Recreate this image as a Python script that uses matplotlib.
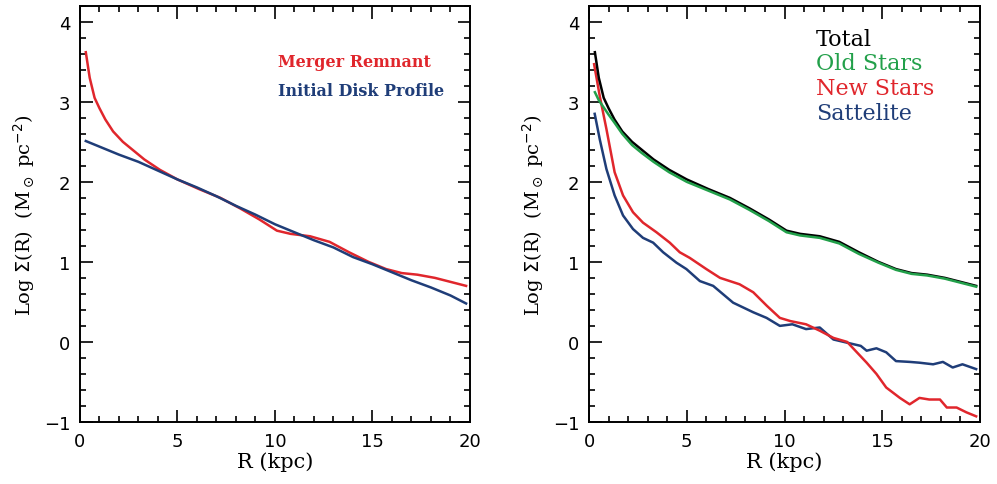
import matplotlib
matplotlib.use("Agg")
import matplotlib.pyplot as plt
from matplotlib.ticker import MultipleLocator

# merger remnant / total profile
r_tot = [0.3, 0.5, 0.75, 1.0, 1.3, 1.7, 2.2, 2.7, 3.3, 4.1, 5.0, 6.1, 7.2, 8.2, 9.2, 10.1, 10.8, 11.8, 12.8, 13.8, 14.8, 15.7, 16.5, 17.3, 18.2, 19.0, 19.8]
sig_tot = [3.62, 3.30, 3.05, 2.92, 2.78, 2.63, 2.50, 2.40, 2.28, 2.15, 2.03, 1.91, 1.80, 1.67, 1.53, 1.39, 1.35, 1.32, 1.25, 1.12, 1.00, 0.91, 0.86, 0.84, 0.80, 0.75, 0.70]

# initial disk profile
r_disk = [0.3, 1.0, 2.0, 3.0, 4.0, 5.0, 6.0, 7.0, 8.0, 9.0, 10.0, 11.0, 12.0, 13.0, 14.0, 15.0, 16.0, 17.0, 18.0, 19.0, 19.8]
sig_disk = [2.51, 2.44, 2.34, 2.25, 2.14, 2.03, 1.93, 1.82, 1.70, 1.59, 1.47, 1.37, 1.27, 1.18, 1.06, 0.97, 0.87, 0.77, 0.68, 0.58, 0.48]

# old stars
r_old = [0.3, 0.5, 0.75, 1.0, 1.3, 1.7, 2.2, 2.7, 3.3, 4.1, 5.0, 6.1, 7.2, 8.2, 9.2, 10.1, 10.8, 11.8, 12.8, 13.8, 14.8, 15.7, 16.5, 17.3, 18.2, 19.0, 19.8]
sig_old = [3.12, 3.02, 2.93, 2.84, 2.74, 2.60, 2.46, 2.36, 2.25, 2.12, 2.00, 1.89, 1.78, 1.65, 1.51, 1.37, 1.33, 1.30, 1.23, 1.10, 0.99, 0.90, 0.85, 0.83, 0.79, 0.74, 0.69]

# new stars
r_new = [0.26, 0.55, 0.89, 1.31, 1.74, 2.25, 2.76, 3.45, 4.13, 4.64, 5.15, 6.0, 6.7, 7.7, 8.4, 9.1, 9.76, 10.3, 11.1, 11.8, 12.5, 13.2, 13.7, 14.2, 14.7, 15.2, 15.9, 16.4, 16.9, 17.4, 17.95, 18.3, 18.8, 19.3, 19.8]
sig_new = [3.47, 3.07, 2.66, 2.12, 1.83, 1.62, 1.49, 1.37, 1.24, 1.12, 1.05, 0.91, 0.80, 0.72, 0.62, 0.45, 0.30, 0.26, 0.22, 0.14, 0.05, 0.00, -0.13, -0.26, -0.40, -0.57, -0.70, -0.78, -0.70, -0.72, -0.72, -0.82, -0.82, -0.88, -0.93]

# sattelite
r_sat = [0.29, 0.55, 0.89, 1.31, 1.74, 2.25, 2.76, 3.28, 3.79, 4.47, 4.98, 5.67, 6.35, 7.37, 8.4, 9.08, 9.76, 10.4, 11.1, 11.8, 12.5, 13.2, 13.9, 14.2, 14.7, 15.2, 15.7, 16.4, 16.9, 17.6, 18.1, 18.6, 19.1, 19.8]
sig_sat = [2.85, 2.53, 2.16, 1.83, 1.58, 1.41, 1.30, 1.24, 1.12, 0.99, 0.91, 0.76, 0.70, 0.49, 0.37, 0.30, 0.20, 0.22, 0.16, 0.18, 0.03, -0.01, -0.05, -0.11, -0.08, -0.13, -0.24, -0.25, -0.26, -0.28, -0.25, -0.32, -0.28, -0.34]

RED = "#e0262c"
BLUE = "#1f3d78"
GREEN = "#22a04a"
SERIF = "DejaVu Serif"

fig = plt.figure(figsize=(9.97, 4.85), dpi=100)
ax1 = fig.add_axes([0.0802, 0.128, 0.3912, 0.858])
ax2 = fig.add_axes([0.5908, 0.128, 0.3922, 0.858])

ylab = r"Log $\Sigma$(R)  (M$_\odot$ pc$^{-2}$)"

for ax in (ax1, ax2):
    ax.set_xlim(0, 20)
    ax.set_ylim(-1, 4.2)
    ax.xaxis.set_major_locator(MultipleLocator(5))
    ax.xaxis.set_minor_locator(MultipleLocator(1))
    ax.yaxis.set_major_locator(MultipleLocator(1))
    ax.yaxis.set_minor_locator(MultipleLocator(0.2))
    ax.tick_params(which="both", direction="in", top=True, right=True, width=1.2)
    ax.tick_params(which="major", length=9, labelsize=13, pad=7)
    ax.tick_params(which="minor", length=4.5)
    for s in ax.spines.values():
        s.set_linewidth(1.4)
    ax.set_xlabel("R (kpc)", fontsize=15, family=SERIF, labelpad=1)
    ax.set_ylabel(ylab, fontsize=14, family=SERIF, labelpad=5)

ax1.plot(r_tot, sig_tot, color=RED, lw=1.8)
ax1.plot(r_disk, sig_disk, color=BLUE, lw=1.8)
ax1.text(10.15, 3.51, "Merger Remnant", color=RED, fontsize=11.5, family=SERIF, fontweight="bold", va="center")
ax1.text(10.15, 3.14, "Initial Disk Profile", color=BLUE, fontsize=11.5, family=SERIF, fontweight="bold", va="center")

ax2.plot(r_sat, sig_sat, color=BLUE, lw=1.8)
ax2.plot(r_new, sig_new, color=RED, lw=1.8)
ax2.plot(r_tot, sig_tot, color="black", lw=1.8)
ax2.plot(r_old, sig_old, color=GREEN, lw=1.8)
labels = ["Total", "Old Stars", "New Stars", "Sattelite"]
colors = ["black", GREEN, RED, BLUE]
for i, (lab, c) in enumerate(zip(labels, colors)):
    ax2.text(11.6, 3.79 - i * 0.31, lab, color=c, fontsize=16, family=SERIF, va="center")

fig.savefig("out.png", dpi=100)
